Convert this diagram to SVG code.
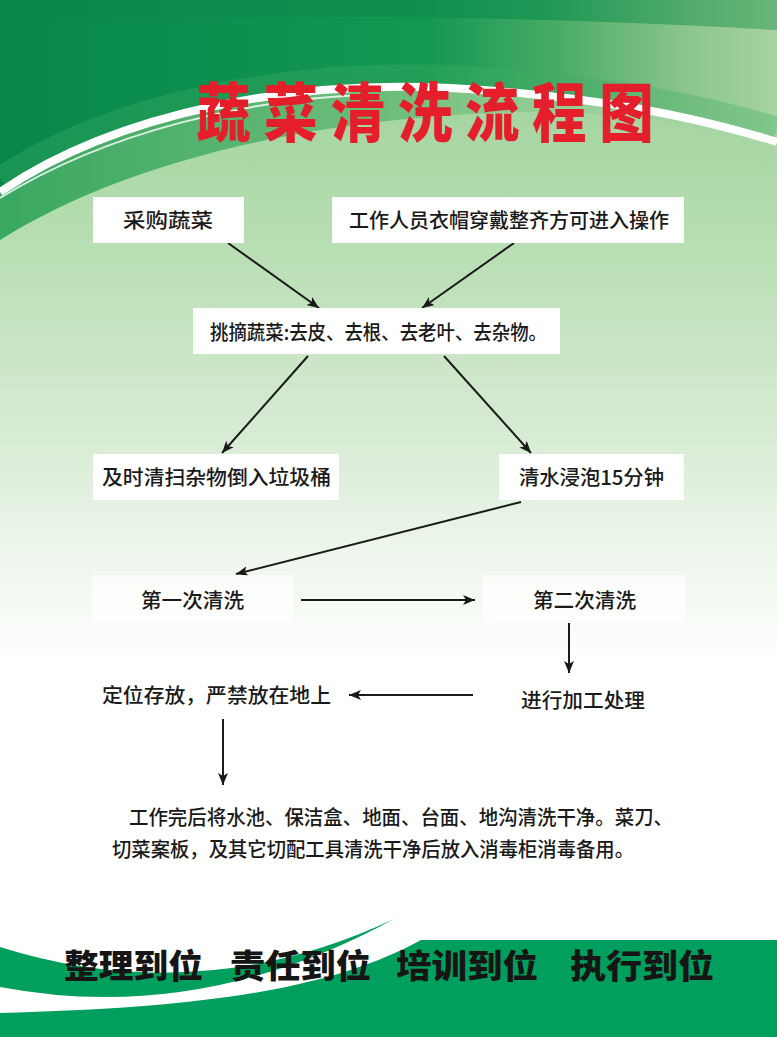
<svg xmlns="http://www.w3.org/2000/svg" width="777" height="1037" viewBox="0 0 777 1037">
<defs>
<linearGradient id="bg" x1="0" y1="0" x2="0" y2="1">
<stop offset="0.08" stop-color="#a1d39e"/>
<stop offset="0.25" stop-color="#badfb5"/>
<stop offset="0.4" stop-color="#d4ead0"/>
<stop offset="0.53" stop-color="#edf6eb"/>
<stop offset="0.64" stop-color="#ffffff"/>
</linearGradient>
<linearGradient id="dark" x1="0" y1="0" x2="1" y2="0">
<stop offset="0" stop-color="#06874a"/>
<stop offset="0.55" stop-color="#139851"/>
<stop offset="0.72" stop-color="#4aab68"/>
<stop offset="0.88" stop-color="#8ac58c"/>
<stop offset="1" stop-color="#a6d49f"/>
</linearGradient>
<linearGradient id="topband" x1="0" y1="0" x2="1" y2="0">
<stop offset="0" stop-color="#078548"/>
<stop offset="0.7" stop-color="#0f904e"/>
<stop offset="1" stop-color="#4fa869"/>
</linearGradient>
<linearGradient id="midband" x1="0" y1="0" x2="1" y2="0">
<stop offset="0" stop-color="#3aa862"/>
<stop offset="0.5" stop-color="#6dbd7a"/>
<stop offset="1" stop-color="#a6d4a2" stop-opacity="0"/>
</linearGradient>
<marker id="ah" viewBox="0 0 12 10" refX="12" refY="5" markerWidth="12" markerHeight="10" markerUnits="userSpaceOnUse" orient="auto">
<path d="M0,0 L12,5 L0,10 L3,5 Z" fill="#1a1a1a"/>
</marker>
<style>
.box{fill:#ffffff;}
.faint{fill:#ffffff;opacity:0.75;}
.t{font-family:"Noto Sans CJK SC","Noto Sans",sans-serif;font-size:20px;font-weight:500;fill:#1a1a1a;}
.title{font-family:"Noto Sans CJK SC",sans-serif;font-weight:900;font-size:64px;fill:#e41f2b;}
.slogan{font-family:"Noto Sans CJK SC",sans-serif;font-weight:900;font-size:33px;fill:#151515;}
.arr{stroke:#1a1a1a;stroke-width:2;fill:none;marker-end:url(#ah);}
</style>
</defs>

<!-- background -->
<rect x="0" y="0" width="777" height="1037" fill="url(#bg)"/>

<!-- top decoration -->
<path d="M0,240 C120,165 300,118 520,112 C620,110 700,125 777,150 L777,0 L0,0 Z" fill="url(#midband)"/>
<path d="M0,192 C120,110 300,80 450,88 C600,96 700,118 777,142 L777,0 L0,0 Z" fill="url(#dark)"/>
<path d="M0,0 H777 V30 Q400,8 0,22 Z" fill="url(#topband)" opacity="0.7"/>
<path d="M0,178 C115,100 295,70 450,76 C600,84 700,104 777,128" fill="none" stroke="#3fae66" stroke-width="22" opacity="0.35"/>
<path d="M0,192 C120,110 300,80 450,88 C600,96 700,118 777,142" fill="none" stroke="#ffffff" stroke-width="8"/>
<path d="M0,198 C110,130 250,100 360,95" fill="none" stroke="#ffffff" stroke-width="2" opacity="0.8"/>

<!-- bottom decoration -->
<path d="M0,947 Q200,1010 394,919 Q200,1025 0,987 Z" fill="#009f5d"/>
<path d="M0,1013 C200,1008 330,990 421,940 H777 V1037 H0 Z" fill="#009f5d"/>

<!-- title -->
<g id="title">
<text class="title" transform="scale(0.85,1)" x="231" y="136" textLength="538" lengthAdjust="spacing">蔬菜清洗流程图</text>
</g>

<!-- connectors -->
<g id="connectors">
<line class="arr" x1="228" y1="243" x2="319" y2="308"/>
<line class="arr" x1="514" y1="243" x2="422" y2="308"/>
<line class="arr" x1="308" y1="356" x2="222" y2="453"/>
<line class="arr" x1="444" y1="356" x2="531" y2="453"/>
<line class="arr" x1="521" y1="502" x2="236" y2="574"/>
<line class="arr" x1="301" y1="600" x2="475" y2="600"/>
<line class="arr" x1="569" y1="623" x2="569" y2="673"/>
<line class="arr" x1="473" y1="695" x2="349" y2="695"/>
<line class="arr" x1="223" y1="719" x2="223" y2="785"/>
</g>

<!-- nodes -->
<g id="n1">
<rect class="box" x="93" y="197" width="151" height="46"/>
<text class="t" x="123" y="228" font-size="21" textLength="90" lengthAdjust="spacingAndGlyphs">采购蔬菜</text>
</g>
<g id="n2">
<rect class="box" x="332" y="197" width="352" height="46"/>
<text class="t" x="349" y="228" textLength="320" lengthAdjust="spacingAndGlyphs">工作人员衣帽穿戴整齐方可进入操作</text>
</g>
<g id="n3">
<rect class="box" x="193" y="308" width="367" height="46"/>
<text class="t" x="210" y="340" textLength="337" lengthAdjust="spacingAndGlyphs">挑摘蔬菜:去皮、去根、去老叶、去杂物。</text>
</g>
<g id="n4">
<rect class="box" x="93" y="454" width="246" height="46"/>
<text class="t" x="102" y="485" textLength="229" lengthAdjust="spacingAndGlyphs">及时清扫杂物倒入垃圾桶</text>
</g>
<g id="n5">
<rect class="box" x="499" y="454" width="185" height="46"/>
<text class="t" x="519" y="485" textLength="145" lengthAdjust="spacingAndGlyphs">清水浸泡15分钟</text>
</g>
<g id="n6">
<rect class="faint" x="92" y="575" width="201" height="48"/>
<text class="t" x="141" y="608" textLength="103" lengthAdjust="spacingAndGlyphs">第一次清洗</text>
</g>
<g id="n7">
<rect class="faint" x="483" y="575" width="202" height="48"/>
<text class="t" x="533" y="608" textLength="103" lengthAdjust="spacingAndGlyphs">第二次清洗</text>
</g>
<g id="n8">
<text class="t" x="521" y="708" textLength="124" lengthAdjust="spacingAndGlyphs">进行加工处理</text>
</g>
<g id="n9">
<text class="t" x="102" y="703" textLength="229" lengthAdjust="spacingAndGlyphs">定位存放，严禁放在地上</text>
</g>
<g id="n10">
<text class="t" x="129" y="825" textLength="544" lengthAdjust="spacingAndGlyphs">工作完后将水池、保洁盒、地面、台面、地沟清洗干净。菜刀、</text>
<text class="t" x="112" y="857" textLength="522" lengthAdjust="spacingAndGlyphs">切菜案板，及其它切配工具清洗干净后放入消毒柜消毒备用。</text>
</g>

<!-- slogan -->
<g id="slogan">
<text class="slogan" x="64" y="978" textLength="139" lengthAdjust="spacingAndGlyphs">整理到位</text>
<text class="slogan" x="230" y="978" textLength="141" lengthAdjust="spacingAndGlyphs">责任到位</text>
<text class="slogan" x="396" y="978" textLength="142" lengthAdjust="spacingAndGlyphs">培训到位</text>
<text class="slogan" x="570" y="978" textLength="144" lengthAdjust="spacingAndGlyphs">执行到位</text>
</g>
</svg>
